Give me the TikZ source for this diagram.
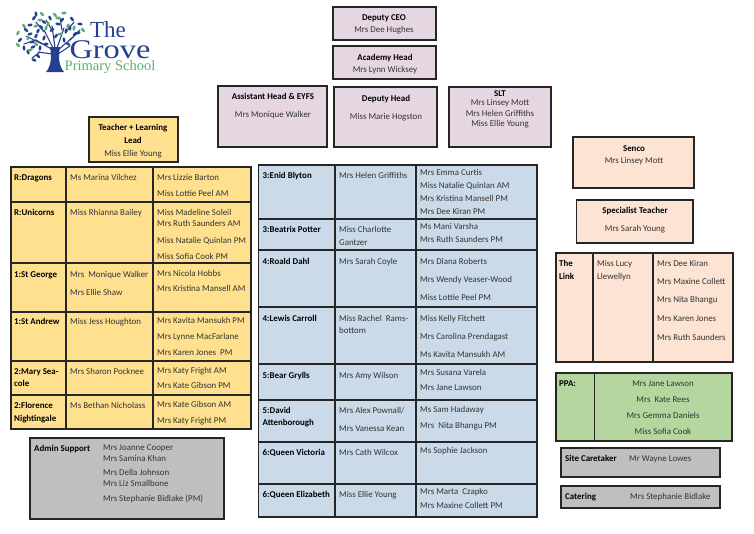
\documentclass[tikz,border=0pt]{standalone}
\usepackage{fontspec}
\usepackage{xcolor}
\setmainfont{Carlito}
\newfontfamily\logofont{Liberation Serif}
\usetikzlibrary{positioning}
\definecolor{lilac}{HTML}{E6D6E2}
\definecolor{sand}{HTML}{FFE08F}
\definecolor{sky}{HTML}{CADAE8}
\definecolor{peach}{HTML}{FCE3D4}
\definecolor{leaf}{HTML}{B5D69E}
\definecolor{slate}{HTML}{BFBFBF}
\definecolor{ink}{HTML}{333333}
\definecolor{navy}{HTML}{24408E}
\definecolor{fern}{HTML}{5BAE70}
\tikzset{
    frame/.style={draw=black!85, line width=1.2pt},
    staff/.style={inner sep=0pt, text height=8.2pt, text depth=2pt, font=\fontsize{8.9}{10}\selectfont, text=ink},
    staffname/.style={staff, anchor=west},
    rolename/.style={staff, anchor=west, text=black, font=\fontsize{8.9}{10}\selectfont\bfseries},
    roletitle/.style={rolename, anchor=center},
    staffmid/.style={staff, anchor=center}
}
\begin{document}
\begin{tikzpicture}[x=1pt, y=-1pt]
    \useasboundingbox (0,0) rectangle (754,533);

    % logo
    \fill [navy] (46,72) .. controls (51,66) and (52,58) .. (50,47) -- (60,47) .. controls (58,58) and (59,66) .. (64,72) -- cycle;
    \foreach \a/\b/\c/\d in {53/50/36/40, 53/48/44/30, 55/48/52/26, 57/48/64/28, 58/50/72/38, 52/54/38/52, 58/54/70/46, 42/44/26/36, 36/40/24/44, 44/32/36/22, 52/30/46/20, 62/30/60/18, 66/32/74/22, 70/40/80/30, 40/52/32/58}
        \draw [navy, line width=1.1pt, line cap=round] (\a,\b) -- (\c,\d);
    \foreach \x/\y [count=\i] in {20/40, 24/48, 26/30, 32/42, 34/18, 36/14, 44/22, 30/34, 38/31, 28/52, 34/60, 33/47, 44/38, 50/18, 58/24, 52/30, 66/31, 72/19, 80/24, 75/34, 40/48, 38/56, 46/44, 62/20, 70/28, 41/27, 30/25, 56/36, 64/40, 68/44, 78/33, 36/36}
        \fill [navy, rotate around={\i*47:(\x,\y)}] (\x,\y) ellipse (2.6 and 1.4);
    \foreach \x/\y [count=\i] in {18/33, 24/26, 40/20, 48/24, 55/15, 64/13, 68/26, 83/30, 60/34, 46/28, 18/45, 30/50, 28/38, 36/44, 58/18, 74/28, 42/14, 36/26}
        \fill [fern, rotate around={\i*61:(\x,\y)}] (\x,\y) ellipse (2.6 and 1.4);
    \node (the) [inner sep=0pt, text=navy, font=\logofont\fontsize{23}{23}\selectfont] at (108,30) {The};
    \node (grove) [inner sep=0pt, xscale=1.2, text=navy, font=\logofont\fontsize{27}{27}\selectfont] at (110,49.5) {Grove};
    \node (school) [inner sep=0pt, text=fern, font=\logofont\fontsize{14.5}{15}\selectfont] at (110,67) {Primary School};

    % leadership
    \draw [frame, fill=lilac] (333,7) rectangle (436,40);
    \draw [frame, fill=lilac] (333,46) rectangle (436,79);
    \draw [frame, fill=lilac] (218,86) rectangle (327,147);
    \draw [frame, fill=lilac] (334,87) rectangle (437,147);
    \draw [frame, fill=lilac] (449,87) rectangle (551,147);
    \draw [frame, fill=sand] (89,117) rectangle (178,162);
    \draw [frame, fill=peach] (573,137) rectangle (694,188);
    \draw [frame, fill=peach] (576.5,200) rectangle (693,243);
    \foreach \x/\y/\t [count=\i] in {384/17/Deputy CEO, 385/57/Academy Head, 273/96/Assistant Head \& EYFS, 386/98/Deputy Head, 500/93/SLT, 133/127/Teacher + Learning, 133/140/Lead, 634/148/Senco, 635/210/Specialist Teacher}
        \node (role\i) [roletitle] at (\x,\y) {\t};
    \foreach \x/\y/\t [count=\i] in {384/29/Mrs Dee Hughes, 385/69/Mrs Lynn Wicksey, 273/114/Mrs Monique Walker, 386/116/Miss Marie Hogston, 500/102/Mrs Linsey Mott, 500/113/Mrs Helen Griffiths, 500/123/Miss Ellie Young, 133/153/Miss Ellie Young, 634/160/Mrs Linsey Mott, 635/228/Mrs Sarah Young}
        \node (lead\i) [staffmid] at (\x,\y) {\t};

    % yellow table
    \draw [frame, fill=sand] (11,167) rectangle (251,429);
    \foreach \y in {202,263,312,361,395}
        \draw [frame] (11,\y) -- (251,\y);
    \foreach \x in {66,153}
        \draw [frame] (\x,167) -- (\x,429);
    \foreach \y/\t [count=\i] in {177/R:Dragons, 212/R:Unicorns, 274/1:St George, 321/1:St Andrew, 371/2:Mary Sea-, 383/cole, 405/2:Florence, 418/Nightingale}
        \node (year\i) [rolename] at (14,\y) {\t};
    \foreach \y/\t [count=\i] in {177/Ms Marina Vilchez, 212/Miss Rhianna Bailey, 274/Mrs\ \ Monique Walker, 292/Mrs Ellie Shaw, 321/Miss Jess Houghton, 371/Mrs Sharon Pocknee, 405/Ms Bethan Nicholass}
        \node (teacher\i) [staffname] at (70,\y) {\t};
    \foreach \y/\t [count=\i] in {177/Mrs Lizzie Barton, 193/Miss Lottie Peel AM, 212/Miss Madeline Soleil, 223/Mrs Ruth Saunders AM, 240/Miss Natalie Quinlan PM, 256/Miss Sofia Cook PM, 273/Mrs Nicola Hobbs, 288/Mrs Kristina Mansell AM, 320/Mrs Kavita Mansukh PM, 336/Mrs Lynne MacFarlane, 352/Mrs Karen Jones\ \ PM, 370/Mrs Katy Fright AM, 385/Mrs Kate Gibson PM, 404/Mrs Kate Gibson AM, 420/Mrs Katy Fright PM}
        \node (support\i) [staffname] at (157,\y) {\t};

    % admin
    \draw [frame, fill=slate] (30,438) rectangle (224,519);
    \node (admin) [rolename] at (34,448) {Admin Support};
    \foreach \y/\t [count=\i] in {447/Mrs Joanne Cooper, 458/Mrs Samina Khan, 472/Mrs Della Johnson, 483/Mrs Liz Smallbone, 498/Mrs Stephanie Bidlake (PM)}
        \node (office\i) [staffname] at (103,\y) {\t};

    % blue table
    \draw [frame, fill=sky] (258.5,165) rectangle (537,517);
    \foreach \y in {219,250,307,364,400,442,484}
        \draw [frame] (258.5,\y) -- (537,\y);
    \foreach \x in {335,416}
        \draw [frame] (\x,165) -- (\x,517);
    \foreach \y/\t [count=\i] in {175/3:Enid Blyton, 229/3:Beatrix Potter, 261/4:Roald Dahl, 318/4:Lewis Carroll, 375/5:Bear Grylls, 410/5:David, 422/Attenborough, 452/6:Queen Victoria, 494/6:Queen Elizabeth}
        \node (class\i) [rolename] at (262.5,\y) {\t};
    \foreach \y/\t [count=\i] in {175/Mrs Helen Griffiths, 229/Miss Charlotte, 242/Gantzer, 261/Mrs Sarah Coyle, 318/Miss Rachel\ \ Rams-, 330/bottom, 375/Mrs Amy Wilson, 410/{Mrs Alex Pownall/}, 428/Mrs Vanessa Kean, 452/Mrs Cath Wilcox, 494/Miss Ellie Young}
        \node (tutor\i) [staffname] at (339,\y) {\t};
    \foreach \y/\t [count=\i] in {172/Mrs Emma Curtis, 185/Miss Natalie Quinlan AM, 198/Mrs Kristina Mansell PM, 211/Mrs Dee Kiran PM, 226/Ms Mani Varsha, 239/Mrs Ruth Saunders PM, 261/Mrs Diana Roberts, 279/Mrs Wendy Veaser-Wood, 297/Miss Lottie Peel PM, 318/Miss Kelly Fitchett, 336/Mrs Carolina Prendagast, 354/Ms Kavita Mansukh AM, 372/Mrs Susana Varela, 387/Mrs Jane Lawson, 409/Ms Sam Hadaway, 425/Mrs\ \ Nita Bhangu PM, 450/Ms Sophie Jackson, 491/Mrs Marta\ \ Czapko, 505/Mrs Maxine Collett PM}
        \node (aide\i) [staffname] at (420,\y) {\t};

    % right column
    \draw [frame, fill=peach] (556,253) rectangle (733,362);
    \foreach \x in {593,653}
        \draw [frame] (\x,253) -- (\x,362);
    \node (linktop) [rolename] at (559,263) {The};
    \node (linkend) [rolename] at (559,276) {Link};
    \node (lucy) [staffname] at (597,263) {Miss Lucy};
    \node (llewellyn) [staffname] at (597,276) {Llewellyn};
    \foreach \y/\t [count=\i] in {263/Mrs Dee Kiran, 281/Mrs Maxine Collett, 299.5/Mrs Nita Bhangu, 318/Mrs Karen Jones, 337/Mrs Ruth Saunders}
        \node (linkstaff\i) [staffname] at (657,\y) {\t};

    \draw [frame, fill=leaf] (556,373) rectangle (732,441);
    \draw [frame] (594.5,373) -- (594.5,441);
    \node (ppa) [rolename] at (559,383) {PPA:};
    \foreach \y/\t [count=\i] in {383/Mrs Jane Lawson, 399/Mrs\ \ Kate Rees, 415/Mrs Gemma Daniels, 431/Miss Sofia Cook}
        \node (cover\i) [staffmid] at (663,\y) {\t};

    \draw [frame, fill=slate] (561,448) rectangle (720,477);
    \node (caretaker) [rolename] at (565,458) {Site Caretaker};
    \node (wayne) [staffname] at (629,458) {Mr Wayne Lowes};
    \draw [frame, fill=slate] (561,486) rectangle (720,508);
    \node (catering) [rolename] at (565,496) {Catering};
    \node (stephanie) [staffname] at (630,496) {Mrs Stephanie Bidlake};
\end{tikzpicture}
\end{document}
